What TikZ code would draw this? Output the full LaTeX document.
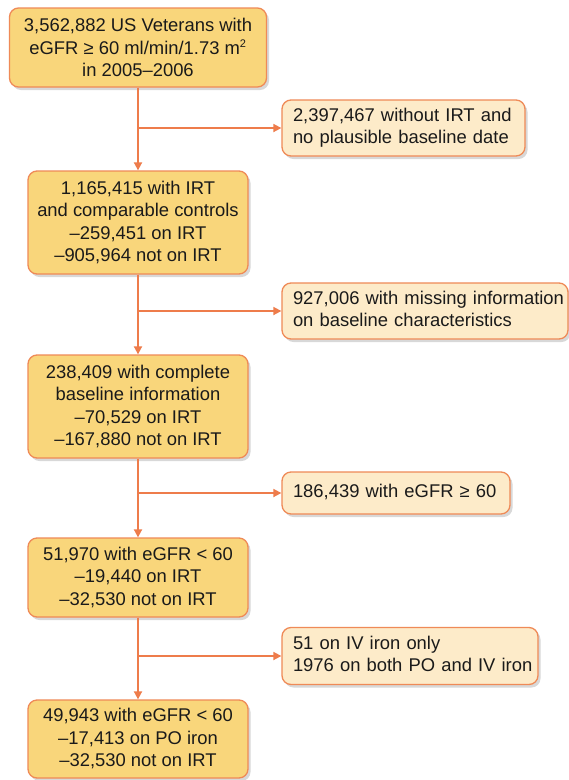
\documentclass[tikz,border=0pt]{standalone}
\usepackage{fontspec}
\setmainfont{Liberation Sans}
\usetikzlibrary{arrows.meta,shadows}
\definecolor{mainfill}{HTML}{F9D67B}
\definecolor{sidefill}{HTML}{FDEBC9}
\definecolor{edge}{HTML}{EF8A57}
\definecolor{arrowc}{HTML}{EE7C4B}
\definecolor{txt}{HTML}{1A1A1A}
\begin{document}
\begin{tikzpicture}[x=1pt,y=-1pt,
  base/.style={draw=edge, line width=1.3pt, rounded corners=9pt, text=txt,
    font=\fontsize{18.4}{22.5}\selectfont, inner sep=0pt,
    drop shadow={shadow xshift=2.5pt, shadow yshift=-3pt, opacity=0.25, fill=black!60}},
  mainbox/.style={base, fill=mainfill, align=center},
  sidebox/.style={base, fill=sidefill, align=left, text width=#1},
  conn/.style={draw=arrowc, line width=1.7pt, -{Triangle[length=8pt,width=8pt]}}]
\useasboundingbox (0,0) rectangle (569,780);
\fill[white] (0,0) rectangle (569,780);

\node[mainbox, minimum width=257pt, minimum height=79pt] (b1) at (138,47.5)
  {3,562,882 US Veterans with\\eGFR ≥ 60 ml/min/1.73 m\textsuperscript{\fontsize{11}{11}\selectfont 2}\\in 2005–2006};
\node[mainbox, minimum width=220pt, minimum height=103pt] (b2) at (138,222.5)
  {1,165,415 with IRT\\and comparable controls\\–259,451 on IRT\\–905,964 not on IRT};
\node[mainbox, minimum width=220pt, minimum height=103pt] (b3) at (138,406.5)
  {238,409 with complete\\baseline information\\–70,529 on IRT\\–167,880 not on IRT};
\node[mainbox, minimum width=220pt, minimum height=79pt] (b4) at (138,577.5)
  {51,970 with eGFR < 60\\–19,440 on IRT\\–32,530 not on IRT};
\node[mainbox, minimum width=220pt, minimum height=78pt] (b5) at (138,739)
  {49,943 with eGFR < 60\\–17,413 on PO iron\\–32,530 not on IRT};

\node[sidebox=221pt, minimum width=243pt, minimum height=56pt] (s1) at (403.5,128)
  {\begin{tabular}{@{}l@{}}2,397,467 without IRT and\\no plausible baseline date\end{tabular}};
\node[sidebox=264pt, minimum width=286pt, minimum height=56pt] (s2) at (425,311)
  {\begin{tabular}{@{}l@{}}927,006 with missing information\\on baseline characteristics\end{tabular}};
\node[sidebox=206pt, minimum width=228pt, minimum height=42pt] (s3) at (396,493)
  {\begin{tabular}{@{}l@{}}186,439 with eGFR ≥ 60\end{tabular}};
\node[sidebox=234pt, minimum width=256pt, minimum height=57pt] (s4) at (410,656)
  {\begin{tabular}{@{}l@{}}51 on IV iron only\\1976 on both PO and IV iron\end{tabular}};

\draw[conn] (b1) -- (b2);
\draw[conn] (b2) -- (b3);
\draw[conn] (b3) -- (b4);
\draw[conn] (b4) -- (b5);
\draw[conn] (b1.south |- s1.west) -- (s1.west);
\draw[conn] (b2.south |- s2.west) -- (s2.west);
\draw[conn] (b3.south |- s3.west) -- (s3.west);
\draw[conn] (b4.south |- s4.west) -- (s4.west);
\end{tikzpicture}
\end{document}
